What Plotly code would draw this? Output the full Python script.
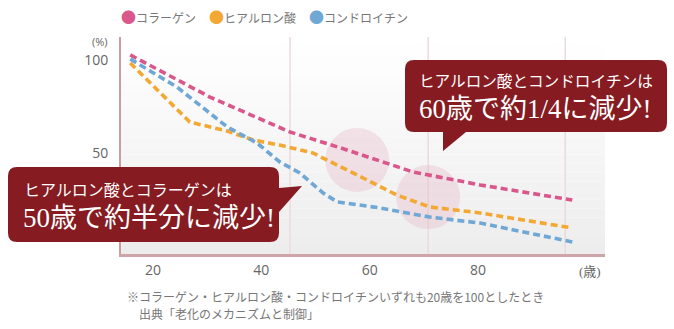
import plotly.graph_objects as go

# ---------------- data ----------------
collagen_age = [15.8, 30.5, 45.3, 55.8, 68.0, 80.4, 97.4]
collagen_val = [102.7, 80.2, 61.5, 51.9, 40.1, 33.2, 25.1]

hyaluronic_age = [15.8, 21.3, 26.8, 33.7, 38.5, 43.4, 49.5, 58.8, 65.0, 71.1, 80.4, 97.4]
hyaluronic_val = [98.4, 82.4, 66.8, 62.0, 57.2, 54.5, 50.3, 36.9, 27.8, 21.4, 18.2, 10.2]

chondroitin_age = [15.8, 24.4, 33.7, 39.2, 43.4, 47.1, 51.4, 54.0, 61.9, 71.1, 80.4, 97.4]
chondroitin_val = [100.5, 85.6, 64.2, 55.6, 45.5, 39.6, 28.9, 24.1, 20.9, 16.0, 12.8, 2.7]

series_names = ["コラーゲン", "ヒアルロン酸", "コンドロイチン"]
series_colors = ["#d9578b", "#f2a833", "#6fa7d5"]

x_tick_vals = [20, 40, 60, 80]
x_tick_text = ["20", "40", "60", "80"]
y_tick_vals = [50, 100]
y_tick_text = ["50", "100"]

grid_ages = [45.3, 70.8, 96.1]
highlight_centers = [(57.7, 46.5), (70.8, 26.7)]

callout1_lines = ["ヒアルロン酸とコラーゲンは", "50歳で約半分に減少!"]
callout2_lines = ["ヒアルロン酸とコンドロイチンは", "60歳で約1/4に減少!"]
footnote_lines = ["※コラーゲン・ヒアルロン酸・コンドロイチンいずれも20歳を100としたとき",
                  "出典「老化のメカニズムと制御」"]

# ---------------- layout geometry ----------------
W, H = 674, 329
PL, PR, PT, PB = 121, 605, 37, 254  # plot area pixel box
PW, PH = PR - PL, PB - PT


def px(x):
    return (x - PL) / PW


def py(y):
    return (PB - y) / PH


FONT = "Noto Sans CJK JP, Noto Sans, sans-serif"
TICKFONT = "Open Sans, Noto Sans, sans-serif"
SERIF = "Liberation Serif, Noto Sans CJK JP, serif"
DARKRED = "#861b21"

fig = go.Figure()

for name, color, xs, ys in zip(
        series_names, series_colors,
        [collagen_age, hyaluronic_age, chondroitin_age],
        [collagen_val, hyaluronic_val, chondroitin_val]):
    fig.add_trace(go.Scatter(x=xs, y=ys, mode="lines", name=name,
                             line=dict(color=color, width=3.6, dash="7px,4px"),
                             showlegend=False, hoverinfo="skip"))

shapes = []
# gradient background
n = 24
for i in range(n):
    t = i / (n - 1)
    c = int(round(255 - t * 18))
    shapes.append(dict(type="rect", xref="paper", yref="paper",
                       x0=0, x1=1, y0=1 - (i + 1) / n, y1=1 - i / n,
                       fillcolor=f"rgb({c},{c},{c})", line=dict(width=0), layer="below"))
# vertical grid lines
for g in grid_ages:
    shapes.append(dict(type="line", xref="x", yref="paper", x0=g, x1=g, y0=0, y1=1,
                       line=dict(color="#ecdadd", width=1.5), layer="below"))
# highlight circles
for cx, cy in highlight_centers:
    shapes.append(dict(type="circle", xref="x", yref="y", xsizemode="pixel", ysizemode="pixel",
                       xanchor=cx, yanchor=cy, x0=-32, x1=32, y0=-32, y1=32,
                       fillcolor="rgba(228,170,185,0.28)", line=dict(width=0), layer="below"))


def rounded_callout(x0, y0, x1, y1, r, tail):
    side, pts = tail
    P = lambda x, y: f"{px(x):.5f},{py(y):.5f}"
    d = f"M {P(x0 + r, y0)} L {P(x1 - r, y0)} Q {P(x1, y0)} {P(x1, y0 + r)} "
    if side == "right":
        for (a, b) in pts:
            d += f"L {P(a, b)} "
    d += f"L {P(x1, y1 - r)} Q {P(x1, y1)} {P(x1 - r, y1)} "
    if side == "bottom":
        for (a, b) in pts:
            d += f"L {P(a, b)} "
    d += f"L {P(x0 + r, y1)} Q {P(x0, y1)} {P(x0, y1 - r)} L {P(x0, y0 + r)} Q {P(x0, y0)} {P(x0 + r, y0)} Z"
    return d


shapes.append(dict(type="path", xref="paper", yref="paper", layer="above",
                   path=rounded_callout(8, 167, 279, 242, 9,
                                        ("right", [(279, 188), (302, 186), (279, 212)])),
                   fillcolor=DARKRED, line=dict(width=0)))
shapes.append(dict(type="path", xref="paper", yref="paper", layer="above",
                   path=rounded_callout(405, 60, 667, 132, 9,
                                        ("bottom", [(466, 132), (443, 151), (443, 132)])),
                   fillcolor=DARKRED, line=dict(width=0)))

annotations = []


def ann(text, x, y, size, color, xanchor="left", family=FONT):
    annotations.append(dict(text=text, x=px(x), y=py(y), xref="paper", yref="paper",
                            xanchor=xanchor, yanchor="middle", showarrow=False,
                            font=dict(family=family, size=size, color=color)))


# legend
leg_x = [119, 207, 307]
for name, color, lx in zip(series_names, series_colors, leg_x):
    ann(f'<span style="color:{color};font-size:15px">●</span>{name}', lx, 17, 12, "#777777")

# axis unit labels
ann("(%)", 100, 41, 11, "#666666", xanchor="center", family=TICKFONT)
ann("(歳)", 590, 271, 13, "#666666", xanchor="center", family=SERIF)

# callout texts
ann(callout1_lines[0], 22, 190, 16, "white", family=SERIF)
ann(callout1_lines[1], 21, 218, 27, "white", family=SERIF)
ann(callout2_lines[0], 417, 81, 15.6, "white", family=SERIF)
ann(callout2_lines[1], 417, 109, 27, "white", family=SERIF)

# footnotes
ann(footnote_lines[0], 125, 296, 12, "#777777")
ann(footnote_lines[1], 137, 313, 12, "#777777")

x_lo = 20 + (PL - 153) / 5.417
x_hi = 20 + (PR - 153) / 5.417
y_hi = 100 + (60 - PT) / 1.87
y_lo = 100 - (PB - 60) / 1.87

fig.update_layout(
    width=W, height=H,
    margin=dict(l=PL, r=W - PR, t=PT, b=H - PB, pad=0),
    paper_bgcolor="white", plot_bgcolor="white",
    shapes=shapes, annotations=annotations,
    xaxis=dict(range=[x_lo, x_hi], tickvals=x_tick_vals, ticktext=x_tick_text,
               showgrid=False, zeroline=False, showline=True, linecolor="#cfa4a9", linewidth=3,
               ticks="", ticklabelstandoff=1,
               tickfont=dict(family=TICKFONT, size=14, color="#666666"), fixedrange=True),
    yaxis=dict(range=[y_lo, y_hi], tickvals=y_tick_vals, ticktext=y_tick_text,
               showgrid=False, zeroline=False, showline=True, linecolor="#cc9ca2", linewidth=2,
               ticks="", ticklabelstandoff=8,
               tickfont=dict(family=TICKFONT, size=14, color="#666666"), fixedrange=True),
    showlegend=False,
)

fig.write_html("out.html", config={"displayModeBar": False})
